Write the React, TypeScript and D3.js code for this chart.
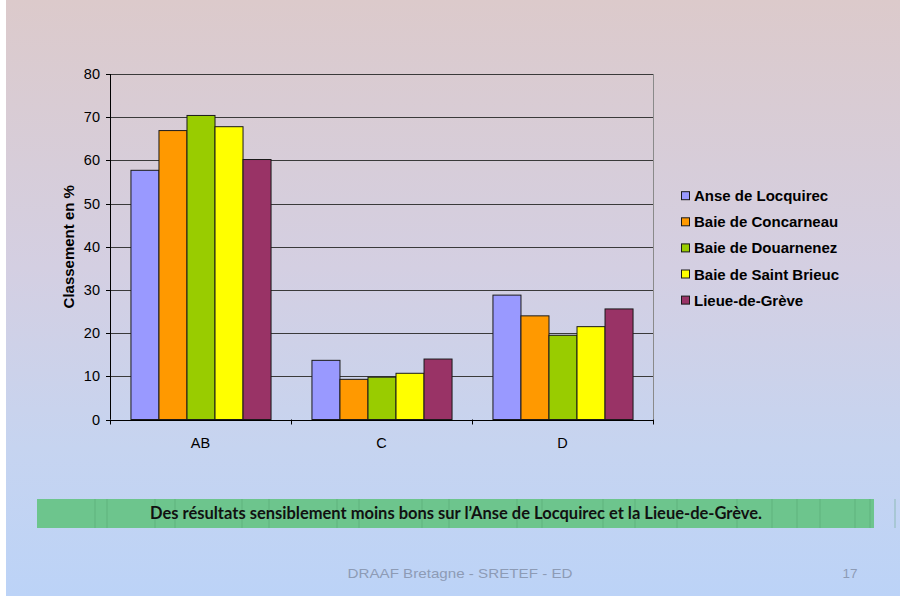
import React from "react";
import * as d3 from "d3";

// Categories, sites and percentages
const categories = ["AB", "C", "D"];
const sites = [
  "Anse de Locquirec",
  "Baie de Concarneau",
  "Baie de Douarnenez",
  "Baie de Saint Brieuc",
  "Lieue-de-Grève",
];
const ansedeLocquirec = [57.7, 13.7, 28.8];
const baieDeConcarneau = [66.9, 9.3, 24.0];
const baieDeDouarnenez = [70.4, 9.8, 19.5];
const baieDeSaintBrieuc = [67.8, 10.7, 21.5];
const lieueDeGreve = [60.2, 14.0, 25.6];
const seriesValues = [
  ansedeLocquirec,
  baieDeConcarneau,
  baieDeDouarnenez,
  baieDeSaintBrieuc,
  lieueDeGreve,
];
const colors = ["#9999FF", "#FF9900", "#99CC00", "#FFFF00", "#993366"];
const yTicks = [0, 10, 20, 30, 40, 50, 60, 70, 80];
const yLabel = "Classement en %";
const bannerText =
  "Des résultats sensiblement moins bons sur l’Anse de Locquirec et la Lieue-de-Grève.";
const footerText = "DRAAF Bretagne - SRETEF - ED";
const pageNumber = "17";

const W = 900;
const H = 596;
const plot = { left: 110, right: 653, top: 74, bottom: 419.5 };

export default function App() {
  const x0 = d3
    .scaleBand<string>()
    .domain(categories)
    .range([plot.left, plot.right])
    .padding(0);
  const x1 = d3
    .scaleBand<string>()
    .domain(sites)
    .range([0, x0.bandwidth()])
    .paddingInner(0)
    .paddingOuter(0.73);
  const y = d3.scaleLinear().domain([0, 80]).range([plot.bottom, plot.top]);

  const font = "Arial, 'Liberation Sans', sans-serif";
  const bannerLines = [58, 70, 118, 138, 205, 232, 300, 322, 385, 412, 480, 505, 566, 598, 640, 700, 735, 760, 783, 818, 833, 858, 866];

  return (
    <svg
      width={W}
      height={H}
      style={{ position: "fixed", left: 0, top: 0, display: "block" }}
    >
      <defs>
        <linearGradient id="bg" x1="0" y1="0" x2="0" y2="1">
          <stop offset="0%" stopColor="#dccacb" />
          <stop offset="45%" stopColor="#d4cfe2" />
          <stop offset="75%" stopColor="#c6d4f0" />
          <stop offset="100%" stopColor="#bcd3f7" />
        </linearGradient>
      </defs>
      <rect x={0} y={0} width={W} height={H} fill="#ffffff" />
      <rect x={6} y={0} width={W - 6} height={H} fill="url(#bg)" />

      {/* gridlines */}
      {yTicks.map((t) => (
        <line
          key={"g" + t}
          x1={plot.left}
          x2={plot.right}
          y1={Math.round(y(t)) + 0.5}
          y2={Math.round(y(t)) + 0.5}
          stroke="#3a3a3a"
          strokeWidth={1}
        />
      ))}
      {/* right border of plot area */}
      <line
        x1={plot.right + 0.5}
        x2={plot.right + 0.5}
        y1={y(80)}
        y2={plot.bottom}
        stroke="#8a8a8a"
        strokeWidth={1}
      />

      {/* bars */}
      {categories.map((c, ci) => (
        <g key={c} transform={`translate(${x0(c)},0)`}>
          {sites.map((s, si) => {
            const v = seriesValues[si][ci];
            return (
              <rect
                key={s}
                x={(x1(s) as number) + 0.5}
                y={y(v)}
                width={x1.bandwidth()}
                height={plot.bottom - y(v)}
                fill={colors[si]}
                stroke="#1a1a1a"
                strokeWidth={1}
              />
            );
          })}
        </g>
      ))}

      {/* y axis */}
      <line
        x1={plot.left + 0.5}
        x2={plot.left + 0.5}
        y1={y(80)}
        y2={plot.bottom}
        stroke="#000"
      />
      {yTicks.map((t) => (
        <g key={"t" + t}>
          <line
            x1={plot.left - 4}
            x2={plot.left}
            y1={Math.round(y(t)) + 0.5}
            y2={Math.round(y(t)) + 0.5}
            stroke="#000"
          />
          <text
            x={plot.left - 10}
            y={y(t) + 5}
            textAnchor="end"
            fontFamily={font}
            fontSize={14.5}
            fill="#000"
          >
            {t}
          </text>
        </g>
      ))}
      <text
        transform={`translate(74,${(plot.top + plot.bottom) / 2}) rotate(-90)`}
        textAnchor="middle"
        fontFamily={font}
        fontSize={15}
        fontWeight="bold"
        fill="#000"
      >
        {yLabel}
      </text>

      {/* x axis */}
      <line
        x1={plot.left}
        x2={plot.right + 1}
        y1={Math.round(plot.bottom) + 0.5}
        y2={Math.round(plot.bottom) + 0.5}
        stroke="#000"
      />
      {[...categories.map((c) => x0(c) as number), plot.right].map((xv, i) => (
        <line
          key={"xt" + i}
          x1={Math.round(xv) + 0.5}
          x2={Math.round(xv) + 0.5}
          y1={plot.bottom}
          y2={plot.bottom + 5}
          stroke="#000"
        />
      ))}
      {categories.map((c) => (
        <text
          key={"xl" + c}
          x={(x0(c) as number) + x0.bandwidth() / 2}
          y={448}
          textAnchor="middle"
          fontFamily={font}
          fontSize={14.5}
          fill="#000"
        >
          {c}
        </text>
      ))}

      {/* legend */}
      {sites.map((s, i) => {
        const cy = 195.7 + i * 26.1;
        return (
          <g key={"lg" + s}>
            <rect
              x={681.5}
              y={cy - 4}
              width={8}
              height={8}
              fill={colors[i]}
              stroke="#1a1a1a"
              strokeWidth={1}
            />
            <text
              x={694}
              y={cy + 5.5}
              fontFamily={font}
              fontSize={15}
              fontWeight="bold"
              fill="#000"
            >
              {s}
            </text>
          </g>
        );
      })}

      {/* banner */}
      <rect x={37} y={499} width={837} height={29} fill="#6dc58d" />
      {bannerLines.map((bx, i) => (
        <line
          key={"bl" + i}
          x1={37 + bx}
          x2={37 + bx}
          y1={499}
          y2={528}
          stroke="#4f9e6b"
          strokeOpacity={0.45}
          strokeWidth={1}
        />
      ))}
      <text
        x={456}
        y={519}
        textAnchor="middle"
        fontFamily="Lato, 'Open Sans', sans-serif"
        fontSize={16.5}
        fontWeight="bold"
        fill="#111"
        textLength={612}
        lengthAdjust="spacingAndGlyphs"
      >
        {bannerText}
      </text>

      {/* footer */}
      <text
        x={460}
        y={578}
        textAnchor="middle"
        fontFamily={font}
        fontSize={13.5}
        fill="#8d9bb5"
        textLength={225}
        lengthAdjust="spacingAndGlyphs"
      >
        {footerText}
      </text>
      <text
        x={850}
        y={578}
        textAnchor="middle"
        fontFamily={font}
        fontSize={13.5}
        fill="#8d9bb5"
      >
        {pageNumber}
      </text>
    </svg>
  );
}
